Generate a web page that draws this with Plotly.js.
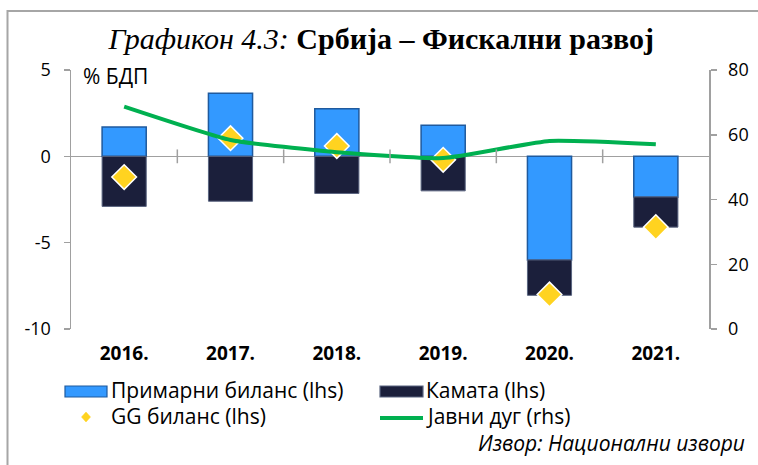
<!DOCTYPE html>
<html>
<head>
<meta charset="utf-8">
<script src="https://cdn.plot.ly/plotly-3.0.1.min.js"></script>
<style>html,body{margin:0;padding:0;background:#fff;}#chart{width:758px;height:465px;}</style>
</head>
<body>
<div id="chart"></div>
<script>
var years = ['2016.', '2017.', '2018.', '2019.', '2020.', '2021.'];
var primaryBalance = [1.7, 3.65, 2.75, 1.8, -6.0, -2.35];
var interest = [-2.9, -2.6, -2.15, -2.0, -2.05, -1.75];
var ggBalance = [-1.2, 1.05, 0.6, -0.2, -8.0, -4.1];
var publicDebt = [68.7, 58.4, 54.6, 52.8, 58.1, 57.1];
var leftTicks = [-10, -5, 0, 5];
var rightTicks = [0, 20, 40, 60, 80];
var seriesNames = ['Примарни биланс (lhs)', 'Камата (lhs)', 'GG биланс (lhs)', 'Јавни дуг (rhs)'];

var FONT = '"Open Sans", "Noto Sans", sans-serif';
var C_PRIM = '#3399FF', C_PRIM_LINE = '#1F5A9E';
var C_INT = '#1B1F3B', C_INT_LINE = '#5B6580';
var C_GG = '#FFD320', C_DEBT = '#00B050';
var L = 71, R = 49, T = 70, B = 136, W = 758, H = 465;
var pw = W - L - R, ph = H - T - B;
function px(x) { return (x - L) / pw; }
function py(y) { return (H - B - y) / ph; }

var traces = [
  {type: 'bar', name: seriesNames[0], x: years, y: primaryBalance,
   marker: {color: C_PRIM, line: {color: C_PRIM_LINE, width: 1.5}}, yaxis: 'y'},
  {type: 'bar', name: seriesNames[1], x: years, y: interest,
   marker: {color: C_INT, line: {color: C_INT_LINE, width: 1}}, yaxis: 'y'},
  {type: 'scatter', mode: 'markers', name: seriesNames[2], x: years, y: ggBalance,
   marker: {symbol: 'diamond', size: 19, color: C_GG, line: {color: '#FFFFFF', width: 1.5}}, yaxis: 'y'},
  {type: 'scatter', mode: 'lines', name: seriesNames[3], x: years, y: publicDebt,
   line: {color: C_DEBT, width: 4, shape: 'spline', smoothing: 0.45}, yaxis: 'y2'}
];

var shapes = [];
for (var i = 1; i < years.length; i++) {
  shapes.push({type: 'line', xref: 'x', yref: 'y', x0: i - 0.5, x1: i - 0.5, y0: -0.4, y1: 0.4,
               line: {color: '#A0A0A0', width: 1.5}});
}
// outer frame
shapes.push({type: 'path', xref: 'paper', yref: 'paper',
  path: 'M' + px(770) + ',' + py(11) + ' L' + px(7.5) + ',' + py(11) + ' L' + px(7.5) + ',' + py(480),
  line: {color: '#A6A6A6', width: 2}});

// manual legend (two columns, two rows)
function rect(x0, x1, y0, y1, fill, lc) {
  return {type: 'rect', xref: 'paper', yref: 'paper', x0: px(x0), x1: px(x1), y0: py(y1), y1: py(y0),
          fillcolor: fill, line: {color: lc, width: 1.2}};
}
shapes.push(rect(65, 107, 386, 397, C_PRIM, C_PRIM_LINE));
shapes.push(rect(380, 423, 386, 397, C_INT, C_INT_LINE));
shapes.push({type: 'path', xref: 'paper', yref: 'paper',
  path: 'M' + px(86) + ',' + py(412) + ' L' + px(90.5) + ',' + py(417) + ' L' + px(86) + ',' + py(422) +
        ' L' + px(81.5) + ',' + py(417) + ' Z', fillcolor: C_GG, line: {color: C_GG, width: 0.5}});
shapes.push({type: 'line', xref: 'paper', yref: 'paper', x0: px(380), x1: px(423), y0: py(418), y1: py(418),
  line: {color: C_DEBT, width: 4}});

function legendText(txt, x, y) {
  return {text: txt, xref: 'paper', yref: 'paper', x: px(x), y: py(y), xanchor: 'left', yanchor: 'middle',
          showarrow: false, font: {family: FONT, size: 21, color: '#000'}};
}

var annotations = [
  {text: '% БДП', xref: 'paper', yref: 'paper', x: px(81), y: py(76), xanchor: 'left', yanchor: 'middle',
   showarrow: false, font: {family: FONT, size: 21, color: '#000'}},
  {text: '<i>Извор: Национални извори</i>', xref: 'paper', yref: 'paper', x: px(747), y: py(443),
   xanchor: 'right', yanchor: 'middle', showarrow: false, font: {family: FONT, size: 21, color: '#000'}},
  legendText(seriesNames[0], 109, 390),
  legendText(seriesNames[1], 424, 390),
  legendText(seriesNames[2], 109, 416),
  legendText(seriesNames[3], 424, 416)
];

var layout = {
  width: W, height: H,
  margin: {l: L, r: R, t: T, b: B},
  paper_bgcolor: '#fff', plot_bgcolor: '#fff',
  barmode: 'relative', bargap: 0.585,
  showlegend: false,
  title: {text: '<i>Графикон 4.3:</i> <b>Србија – Фискални развој</b>',
          font: {family: '"Liberation Serif", serif', size: 30, color: '#000'},
          x: 0.503, xanchor: 'center', y: 1 - 38 / H, yanchor: 'middle'},
  xaxis: {type: 'category', showgrid: false, showline: false, zeroline: false, ticks: '',
          tickfont: {family: FONT, size: 19, color: '#000', weight: 'bold'},
          ticklabelstandoff: 11},
  yaxis: {range: [-10, 5], tickvals: leftTicks, ticktext: leftTicks.map(String), showgrid: false, showline: true,
          linecolor: '#A0A0A0', linewidth: 1.5, ticks: 'outside', ticklen: 6, tickcolor: '#A0A0A0',
          tickwidth: 1.5, zeroline: true, zerolinecolor: '#A0A0A0', zerolinewidth: 1.5,
          ticklabelstandoff: 9, tickfont: {family: FONT, size: 18, color: '#000'}},
  yaxis2: {range: [0, 80], tickvals: rightTicks, ticktext: rightTicks.map(String), overlaying: 'y', side: 'right',
           showgrid: false, showline: true, linecolor: '#A0A0A0', linewidth: 1.5, ticks: 'outside', ticklen: 6,
           tickcolor: '#A0A0A0', tickwidth: 1.5, zeroline: false, ticklabelstandoff: 8,
           tickfont: {family: FONT, size: 18, color: '#000'}},
  shapes: shapes,
  annotations: annotations
};

Plotly.newPlot('chart', traces, layout, {displayModeBar: false, staticPlot: true});
</script>
</body>
</html>
